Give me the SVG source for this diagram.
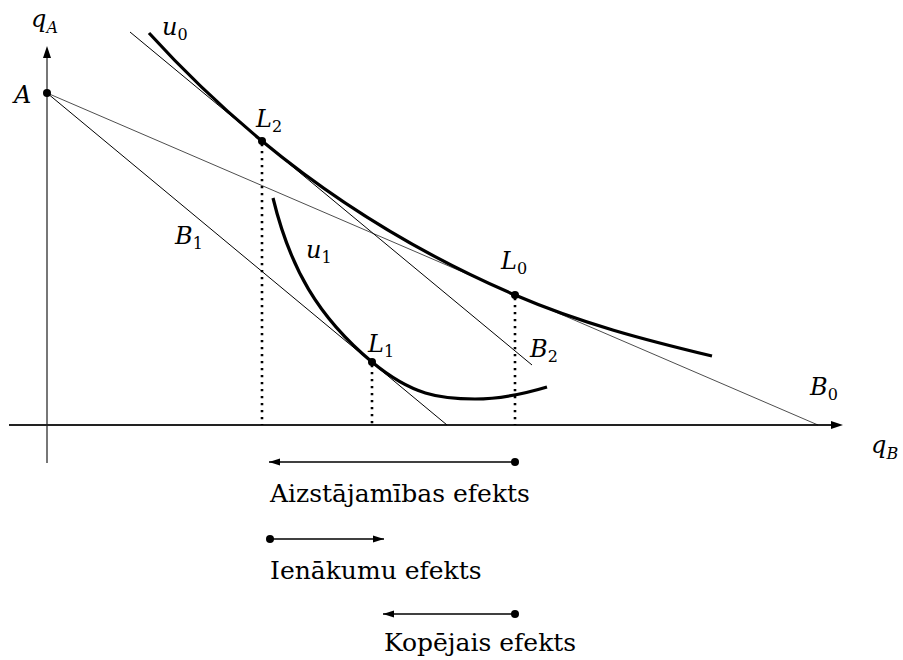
<svg xmlns="http://www.w3.org/2000/svg" width="903" height="660" viewBox="0 0 903 660">
<defs>
<style>
.m{font-family:'DejaVu Serif','Liberation Serif',serif;font-style:italic;font-size:24px;fill:#000}
.s{font-style:normal;font-size:16px}
.ss{font-size:16px}
.t{font-family:'DejaVu Serif','Liberation Serif',serif;font-size:25px;fill:#000}
.curve{fill:none;stroke:#000;stroke-width:3.2}
.budget{fill:none;stroke:#000;stroke-width:1}
.budget0{fill:none;stroke:#000;stroke-width:0.7}
.drop{fill:none;stroke:#000;stroke-width:2.6;stroke-dasharray:2.3 4.7}
.eff{fill:none;stroke:#000;stroke-width:1.3}
.pt{fill:#000}
</style>
<marker id="ah" markerWidth="12" markerHeight="10" refX="11" refY="5" orient="auto" markerUnits="userSpaceOnUse">
<path d="M0,1.5 L11,5 L0,8.5 Z" fill="#000"/>
</marker>
</defs>
<rect width="903" height="660" fill="#fff"/>

<g id="axes">
<line x1="47" y1="463" x2="47" y2="56" stroke="#777" stroke-width="2"/>
<path d="M47,46 L43,58 L51,58 Z" fill="#000"/>
<line x1="9" y1="425" x2="832" y2="425" stroke="#222" stroke-width="2"/>
<path d="M843,425 L831,421 L831,429 Z" fill="#000"/>
</g>

<g id="connectors">
<line class="budget0" x1="47" y1="93" x2="818" y2="425"/>
<line class="budget" x1="47" y1="93" x2="447" y2="425"/>
<line class="budget" x1="130" y1="32" x2="532" y2="365"/>
<line class="drop" x1="262" y1="144" x2="262" y2="425"/>
<line class="drop" x1="372" y1="365" x2="372" y2="425"/>
<line class="drop" x1="515" y1="298" x2="515" y2="425"/>
<line class="eff" x1="515" y1="462" x2="269" y2="462" marker-end="url(#ah)"/>
<line class="eff" x1="270" y1="539" x2="384" y2="539" marker-end="url(#ah)"/>
<line class="eff" x1="515" y1="614" x2="383" y2="614" marker-end="url(#ah)"/>
</g>

<g id="u0">
<path class="curve" d="M149,33 C187,74.8 224,109.5 262,141 C346.3,210.8 430.7,258.7 515,295 C580.7,323.3 646.3,340.2 712,356"/>
</g>
<g id="u1">
<path class="curve" d="M273,198 C290,268 318,317 372,362 C412,395.2 440,399 475,399 C499,399 523,394.2 547,387"/>
</g>

<g id="points">
<circle class="pt" cx="47" cy="93" r="4"/>
<circle class="pt" cx="262" cy="141" r="4"/>
<circle class="pt" cx="372" cy="362" r="4"/>
<circle class="pt" cx="515" cy="295" r="4"/>
<circle class="pt" cx="515" cy="462" r="4"/>
<circle class="pt" cx="270" cy="539" r="4"/>
<circle class="pt" cx="515" cy="614" r="4"/>
</g>

<g id="labels">
<text class="m" x="31" y="27">q<tspan class="ss" dy="6">A</tspan></text>
<text class="m" x="871" y="453">q<tspan class="ss" dy="6">B</tspan></text>
<text class="m" x="14" y="103">A</text>
<text class="m" x="162" y="35">u<tspan class="s" dy="5">0</tspan></text>
<text class="m" x="306" y="258">u<tspan class="s" dy="5">1</tspan></text>
<text class="m" x="256" y="127">L<tspan class="s" dy="5">2</tspan></text>
<text class="m" x="501" y="269">L<tspan class="s" dy="5">0</tspan></text>
<text class="m" x="368" y="352">L<tspan class="s" dy="5">1</tspan></text>
<text class="m" x="175" y="244">B<tspan class="s" dy="5">1</tspan></text>
<text class="m" x="530" y="357">B<tspan class="s" dy="5">2</tspan></text>
<text class="m" x="810" y="395">B<tspan class="s" dy="5">0</tspan></text>
</g>

<g id="effects">
<text class="t" x="270" y="502">Aizstājamības efekts</text>
<text class="t" x="270" y="579">Ienākumu efekts</text>
<text class="t" x="384" y="651">Kopējais efekts</text>
</g>
</svg>
